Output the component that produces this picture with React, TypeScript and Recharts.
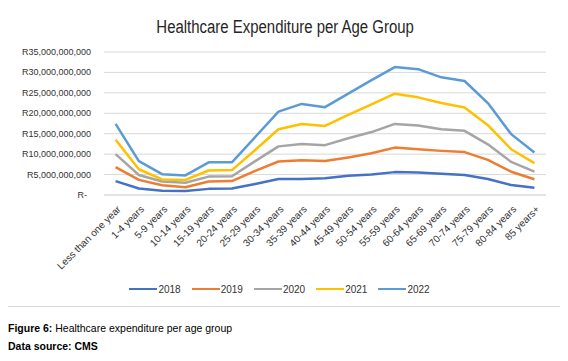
import React from 'react';
import { LineChart, Line, XAxis, YAxis, CartesianGrid } from 'recharts';

const ageGroups = [
  'Less than one year', '1-4 years', '5-9 years', '10-14 years', '15-19 years',
  '20-24 years', '25-29 years', '30-34 years', '35-39 years', '40-44 years',
  '45-49 years', '50-54 years', '55-59 years', '60-64 years', '65-69 years',
  '70-74 years', '75-79 years', '80-84 years', '85 years+',
];

// values in R billion
const spend2018 = [3.4, 1.6, 1.05, 1.0, 1.5, 1.6, 2.7, 3.9, 3.9, 4.1, 4.7, 5.0, 5.6, 5.5, 5.2, 4.9, 3.9, 2.45, 1.8];
const spend2019 = [6.8, 3.7, 2.4, 1.9, 3.3, 3.4, 5.9, 8.2, 8.5, 8.3, 9.2, 10.2, 11.6, 11.2, 10.8, 10.5, 8.6, 5.7, 3.85];
const spend2020 = [10.0, 4.9, 3.3, 3.0, 4.5, 4.6, 8.3, 11.9, 12.5, 12.2, 13.9, 15.4, 17.4, 17.0, 16.1, 15.7, 12.4, 8.1, 5.7];
const spend2021 = [13.5, 6.3, 3.8, 3.7, 6.0, 6.1, 11.0, 16.1, 17.4, 16.9, 19.6, 22.2, 24.8, 23.9, 22.5, 21.4, 17.1, 11.2, 7.8];
const spend2022 = [17.4, 8.3, 5.1, 4.8, 8.0, 8.0, 14.2, 20.4, 22.3, 21.5, 24.8, 28.1, 31.3, 30.8, 28.8, 27.9, 22.5, 14.9, 10.4];

const yTicks = [0, 5e9, 10e9, 15e9, 20e9, 25e9, 30e9, 35e9];

const series = [
  { key: '2018', color: '#4472C4', values: spend2018 },
  { key: '2019', color: '#ED7D31', values: spend2019 },
  { key: '2020', color: '#A5A5A5', values: spend2020 },
  { key: '2021', color: '#FFC000', values: spend2021 },
  { key: '2022', color: '#5B9BD5', values: spend2022 },
];

const data = ageGroups.map((group, i) => {
  const row: any = { group };
  series.forEach((s) => {
    row[s.key] = s.values[i] * 1e9;
  });
  return row;
});

const FONT = '"Liberation Sans", Arial, sans-serif';

const formatRand = (v: number) => (v === 0 ? 'R-' : 'R' + v.toLocaleString('en-US'));

const YTick = ({ y, payload }: any) => (
  <text
    x={payload.value === 0 ? 80 : 84}
    y={y}
    dy={3}
    textAnchor="end"
    fontSize={9}
    fill="#333"
    fontFamily={FONT}
  >
    {formatRand(payload.value)}
  </text>
);

const XTick = ({ x, y, payload }: any) => (
  <g transform={`translate(${x + 3},${y + 4})`}>
    <text textAnchor="end" transform="rotate(-45)" dy={4} fontSize={10} fill="#333" fontFamily={FONT}>
      {payload.value}
    </text>
  </g>
);

export default function App() {
  return (
    <div style={{ position: 'relative', width: 568, height: 361, margin: -8, background: '#fff', fontFamily: FONT }}>
      <div
        style={{
          position: 'absolute', left: 7, top: 5, width: 556, height: 302,
          border: '1px solid #d9d9d9', boxSizing: 'border-box',
        }}
      />
      <div
        style={{
          position: 'absolute', left: 7, top: 15, width: 556, height: 24, lineHeight: '24px',
          textAlign: 'center', fontSize: 18, color: '#262626',
        }}
      >
        <span style={{ display: 'inline-block', transform: 'scaleX(0.83)' }}>
          Healthcare Expenditure per Age Group
        </span>
      </div>
      <div style={{ position: 'absolute', left: 7, top: 5 }}>
        <LineChart width={556} height={302} data={data} margin={{ top: 47, right: 17, bottom: 0, left: 0 }}>
          <CartesianGrid vertical={false} stroke="#d9d9d9" strokeWidth={1} />
          <XAxis
            dataKey="group"
            interval={0}
            height={112}
            padding={{ left: 11.6, right: 11.6 }}
            tickLine={false}
            axisLine={{ stroke: '#d9d9d9' }}
            tick={<XTick />}
          />
          <YAxis
            width={97}
            domain={[0, 35e9]}
            ticks={yTicks}
            interval={0}
            axisLine={false}
            tickLine={false}
            tick={<YTick />}
          />
          {series.map((s) => (
            <Line
              key={s.key}
              type="linear"
              dataKey={s.key}
              stroke={s.color}
              strokeWidth={2.5}
              dot={false}
              strokeLinejoin="round"
              isAnimationActive={false}
            />
          ))}
        </LineChart>
      </div>
      <div
        style={{
          position: 'absolute', left: 7, top: 282, width: 556, height: 14,
          display: 'flex', justifyContent: 'center', alignItems: 'center',
        }}
      >
        {series.map((s) => (
          <div key={s.key} style={{ display: 'flex', alignItems: 'center', marginRight: 11 }}>
            <span style={{ display: 'inline-block', width: 28, height: 2.5, background: s.color, marginRight: 1 }} />
            <span style={{ fontSize: 10, color: '#333' }}>{s.key}</span>
          </div>
        ))}
      </div>
      <div style={{ position: 'absolute', left: 8, top: 319, fontSize: 10.5, lineHeight: '18px', color: '#000' }}>
        <div>
          <b>Figure 6:</b> Healthcare expenditure per age group
        </div>
        <div>
          <b>Data source: CMS</b>
        </div>
      </div>
    </div>
  );
}
